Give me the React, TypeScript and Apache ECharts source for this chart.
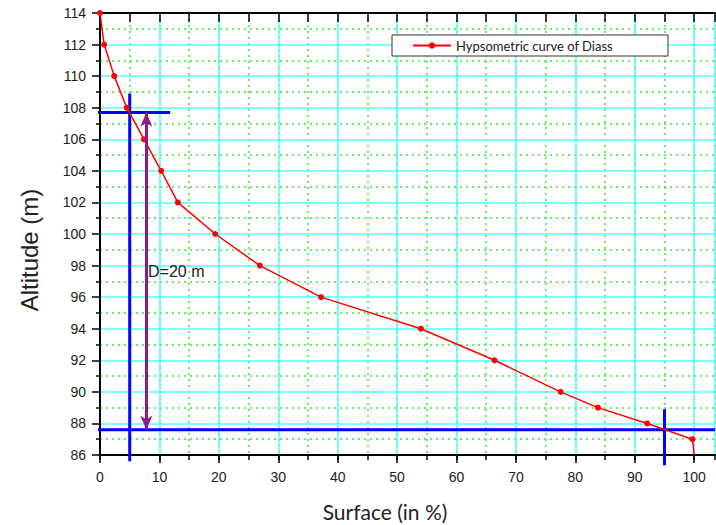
import React, { useEffect, useRef } from "react";
import * as echarts from "echarts";

const surfacePct = [0, 0.7, 2.4, 4.5, 7.4, 10.3, 13.1, 19.4, 26.9, 37.2, 54.0, 66.4, 77.5, 83.8, 92.1, 99.7, 100];
const altitude = [114, 112, 110, 108, 106, 104, 102, 100, 98, 96, 94, 92, 90, 89, 88, 87, 86];
const seriesName = "Hypsometric curve of Diass";

// reference construction lines (data coordinates)
const upperLevel = 107.7;
const lowerLevel = 87.6;
const leftMark = 5;
const rightMark = 95;
const arrowX = 7.8;

export default function App() {
  const ref = useRef<HTMLDivElement>(null);
  useEffect(() => {
    if (!ref.current) return;
    const chart = echarts.init(ref.current, null, { renderer: "svg" });
    const data = surfacePct.map((x, i) => {
      const p: any = { value: [x, altitude[i]] };
      if (i === surfacePct.length - 1) p.symbol = "none";
      return p;
    });
    const labelStyle = { fontFamily: "Liberation Sans, Arial", fontSize: 14, color: "#222" };
    const blue = { color: "#0000ff", width: 3 };
    const seg = (pts: number[][]) => ({
      type: "line",
      data: pts,
      symbol: "none",
      clip: false,
      lineStyle: blue,
      itemStyle: { color: "#0000ff" },
      silent: true,
      z: 3,
    });
    chart.setOption({
      animation: false,
      backgroundColor: "#fff",
      grid: { left: 100, top: 13, right: 1, bottom: 70 },
      legend: {
        data: [seriesName],
        left: 412,
        top: 39,
        padding: 0,
        itemWidth: 38,
        itemHeight: 8,
        itemGap: 9,
        textStyle: { fontFamily: "Lato", fontSize: 13, color: "#222" },
        z: 5,
      },
      xAxis: [
        {
          type: "value",
          min: 0,
          max: 103.5,
          interval: 10,
          position: "bottom",
          z: 1,
          axisLine: { show: true, lineStyle: { color: "#000", width: 2 } },
          axisTick: { show: true, length: 8, lineStyle: { color: "#000", width: 1.5 } },
          axisLabel: {
            ...labelStyle,
            margin: 15,
            showMaxLabel: false,
            formatter: (v: number) => (Math.abs(v % 10) < 1e-6 ? String(v) : ""),
          },
          splitLine: { show: true, lineStyle: { color: "#55ffff", width: 1.5 } },
        },
        {
          type: "value",
          min: 0,
          max: 103.5,
          interval: 5,
          position: "top",
          z: 1,
          axisLine: { show: true, lineStyle: { color: "#000", width: 2 } },
          axisTick: { show: true, inside: true, length: 9, lineStyle: { color: "#000", width: 1.5 } },
          axisLabel: { show: false },
          splitLine: { show: false },
        },
        {
          type: "value",
          min: 0,
          max: 103.5,
          interval: 5,
          position: "bottom",
          z: 0,
          axisLine: { show: false },
          axisTick: { show: true, length: 5, lineStyle: { color: "#000", width: 1.5 } },
          axisLabel: { show: false },
          splitLine: { show: true, lineStyle: { color: "#33ee33", width: 1.5, type: [2, 4] } },
        },
      ],
      yAxis: [
        {
          type: "value",
          min: 86,
          max: 114,
          interval: 2,
          z: 1,
          axisLine: { show: true, lineStyle: { color: "#000", width: 2 } },
          axisTick: { show: true, length: 8, lineStyle: { color: "#000", width: 1.5 } },
          minorTick: { show: true, splitNumber: 2, length: 4, lineStyle: { color: "#000", width: 1.5 } },
          axisLabel: { ...labelStyle, margin: 14 },
          splitLine: { show: true, lineStyle: { color: "#55ffff", width: 1.5 } },
          minorSplitLine: { show: true, lineStyle: { color: "#33ee33", width: 1.5, type: [2, 4] } },
        },
      ],
      series: [
        {
          name: seriesName,
          type: "line",
          data,
          symbol: "circle",
          symbolSize: 6,
          lineStyle: { color: "#ff0000", width: 1.5 },
          itemStyle: { color: "#ff0000" },
          z: 4,
          markLine: {
            silent: true,
            symbol: ["arrow", "arrow"],
            symbolSize: [9, 14],
            label: { show: false },
            lineStyle: { color: "#8b1a8b", width: 3, type: "solid" },
            data: [[{ coord: [arrowX, upperLevel] }, { coord: [arrowX, lowerLevel] }]],
          },
        },
        seg([[-1.7, upperLevel], [11.8, upperLevel]]),
        seg([[leftMark, 108.9], [leftMark, 85.6]]),
        seg([[-2.2, lowerLevel], [103.5, lowerLevel]]),
        seg([[rightMark, 88.9], [rightMark, 85.35]]),
      ],
      graphic: [
        {
          type: "rect",
          shape: { x: 392, y: 35, width: 276, height: 21 },
          style: { fill: "#fff", stroke: "#333", lineWidth: 1 },
          z: 4,
        },
        {
          type: "text",
          left: 148,
          top: 263,
          style: { text: "D=20 m", font: "16px 'Liberation Sans', Arial", fill: "#222" },
          z: 6,
        },
        {
          type: "text",
          x: 385,
          y: 511,
          style: {
            text: "Surface (in %)",
            font: "21px Lato",
            fill: "#222",
            textAlign: "center",
            textVerticalAlign: "middle",
          },
          z: 6,
        },
        {
          type: "text",
          x: 29,
          y: 250,
          rotation: Math.PI / 2,
          style: {
            text: "Altitude (m)",
            font: "24px 'Liberation Sans', Arial",
            fill: "#222",
            textAlign: "center",
            textVerticalAlign: "middle",
          },
          z: 6,
        },
      ],
    });
    return () => chart.dispose();
  }, []);
  return (
    <div
      ref={ref}
      style={{ position: "fixed", left: 0, top: 0, width: 716, height: 525 }}
    />
  );
}
